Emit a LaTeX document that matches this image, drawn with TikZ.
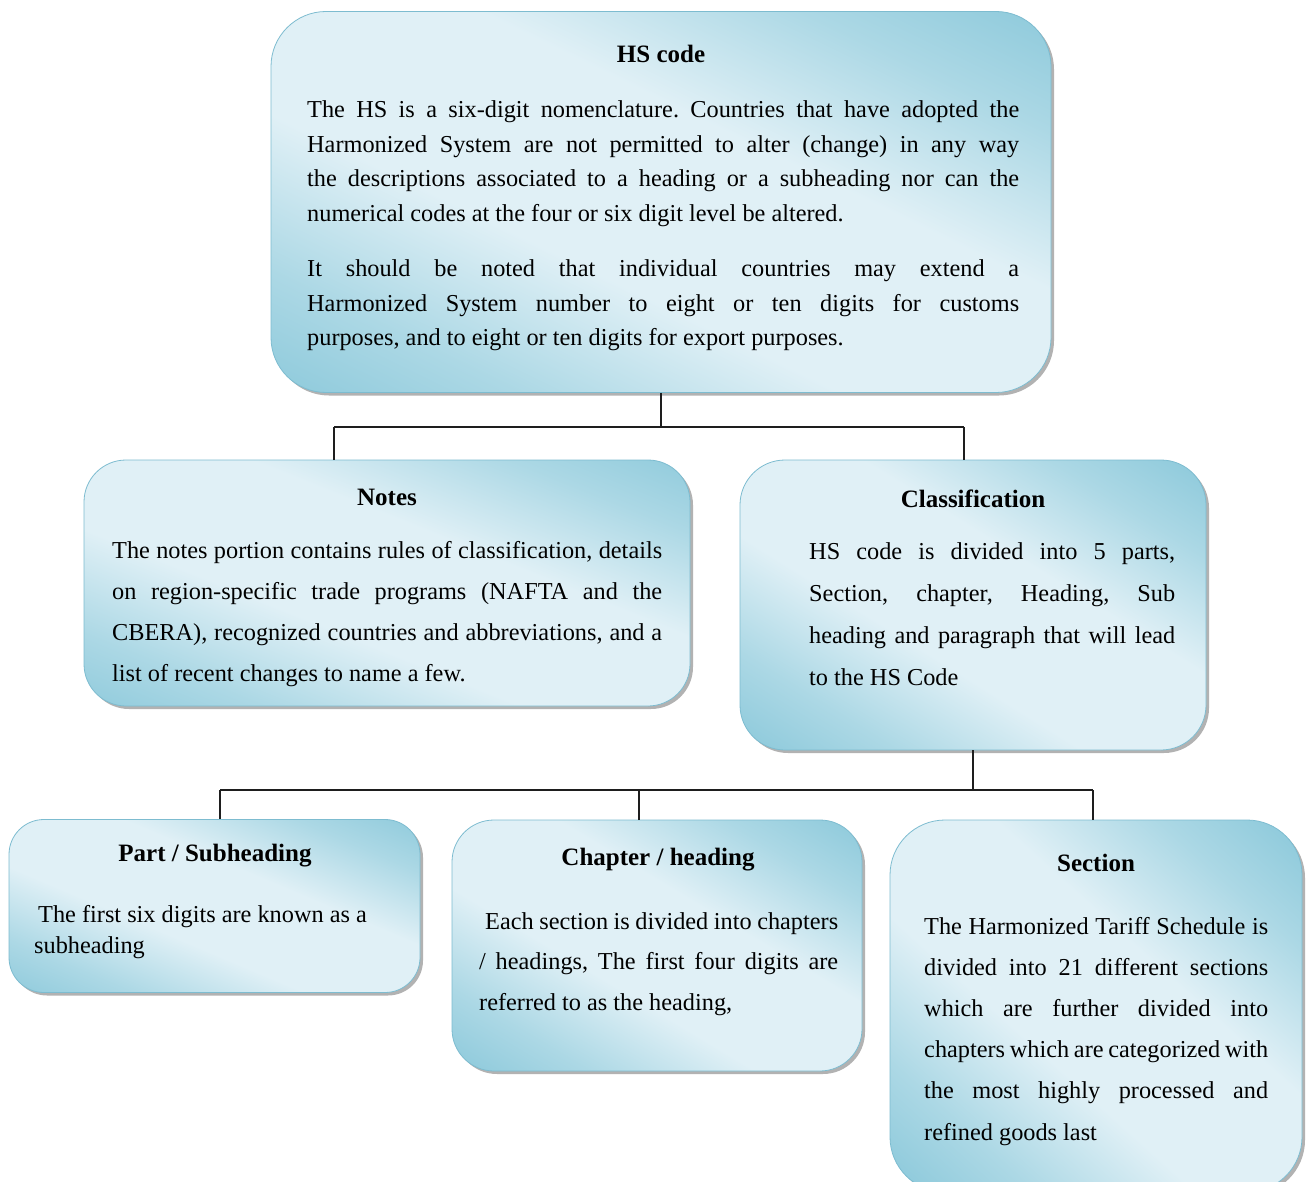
\documentclass[tikz,border=0pt]{standalone}
\usepackage{fontspec}
\setmainfont{Liberation Serif}
\usetikzlibrary{shadows}
\definecolor{boxdark}{RGB}{138,200,218}
\definecolor{boxmid}{RGB}{172,216,229}
\definecolor{boxlight}{RGB}{224,240,246}
\definecolor{boxedge}{RGB}{125,188,208}
\definecolor{linecol}{RGB}{30,30,30}
\pgfdeclareverticalshading{boxshade}{100bp}{color(0bp)=(boxdark); color(15bp)=(boxdark); color(27bp)=(boxmid); color(41bp)=(boxlight); color(59bp)=(boxlight); color(73bp)=(boxmid); color(85bp)=(boxdark); color(100bp)=(boxdark)}
\tikzset{
  box/.style 2 args={draw=boxedge, line width=0.8pt, rounded corners=#1,
    shade, shading=boxshade, shading angle=#2,
    drop shadow={shadow xshift=3pt, shadow yshift=-3pt, fill=black, opacity=0.3},
    inner sep=0pt},
  title/.style={anchor=base, inner sep=0pt, font=\bfseries\fontsize{25}{30}\selectfont},
  body/.style={anchor=base west, inner sep=0pt},
  conn/.style={draw=linecol, line width=1.2pt}
}
\newcommand{\bodytext}[3]{\parbox[t]{#1}{\fontsize{24.3}{#2}\selectfont\frenchspacing\tolerance=10000\hyphenpenalty=10000 #3}}
\begin{document}
\begin{tikzpicture}[x=1pt,y=-1pt]
\path[use as bounding box, fill=white] (0,0) rectangle (1306,1182);

% boxes
\node[box={55pt}{-26}, minimum width=780pt, minimum height=381pt] (hs) at (661,202) {};
\node[box={42pt}{-22}, minimum width=606pt, minimum height=246pt] (notes) at (387,583) {};
\node[box={45pt}{-32}, minimum width=466pt, minimum height=290pt] (cls) at (973,605) {};
\node[box={35pt}{-23}, minimum width=411pt, minimum height=173pt] (part) at (214.5,906) {};
\node[box={42pt}{-31}, minimum width=410pt, minimum height=251pt] (chap) at (657,945.5) {};
\node[box={55pt}{-42}, minimum width=412pt, minimum height=372pt] (sec) at (1096,1006) {};

% connectors
\coordinate (b1L) at (334,427);
\coordinate (b1R) at (964,427);
\draw[conn] (hs.south) -- (hs.south |- b1L);
\draw[conn] (b1L) -- (b1R);
\draw[conn] (b1L) -- (b1L |- notes.north);
\draw[conn] (b1R) -- (b1R |- cls.north);
\coordinate (b2L) at (220,790);
\coordinate (b2M) at (639,790);
\coordinate (b2R) at (1093,790);
\draw[conn] (cls.south) -- (cls.south |- b2L);
\draw[conn] (b2L) -- (b2R);
\draw[conn] (b2L) -- (b2L |- part.north);
\draw[conn] (b2M) -- (b2M |- chap.north);
\draw[conn] (b2R) -- (b2R |- sec.north);

% titles
\node[title] (hsT) at (661,63) {HS code};
\node[title] (notesT) at (387,505) {Notes};
\node[title] (clsT) at (973,507) {Classification};
\node[title] (partT) at (215,861) {Part / Subheading};
\node[title] (chapT) at (658,865) {Chapter / heading};
\node[title] (secT) at (1096,871) {Section};

% bodies
\node[body] (hsB) at (307,118) {\bodytext{712pt}{34.5}{The HS is a six-digit nomenclature. Countries that have adopted the\linebreak Harmonized System are not permitted to alter (change) in any way\linebreak the descriptions associated to a heading or a subheading nor can the\linebreak numerical codes at the four or six digit level be altered.\par\vspace{21pt}It should be noted that individual countries may extend a\linebreak Harmonized System number to eight or ten digits for customs\linebreak purposes, and to eight or ten digits for export purposes.}};
\node[body] (notesB) at (112,558) {\bodytext{550pt}{41.3}{The notes portion contains rules of classification, details\linebreak on region-specific trade programs (NAFTA and the\linebreak CBERA), recognized countries and abbreviations, and a\linebreak list of recent changes to name a few.}};
\node[body] (clsB) at (809,559) {\bodytext{366pt}{42}{HS code is divided into 5 parts,\linebreak Section, chapter, Heading, Sub\linebreak heading and paragraph that will lead\linebreak to the HS Code}};
\node[body] (partB) at (34,922) {\parbox[t]{380pt}{\fontsize{24.3}{31}\selectfont\raggedright\hspace*{4pt}The first six digits are known as a\\subheading}};
\node[body] (chapB) at (479,929) {\bodytext{359pt}{40.5}{\hspace*{6pt}Each section is divided into chapters\linebreak / headings, The first four digits are\linebreak referred to as the heading,}};
\node[body] (secB) at (924,934) {\bodytext{344pt}{41.2}{The Harmonized Tariff Schedule is\linebreak divided into 21 different sections\linebreak which are further divided into\linebreak chapters which are categorized with\linebreak the most highly processed and\linebreak refined goods last}};
\end{tikzpicture}
\end{document}
